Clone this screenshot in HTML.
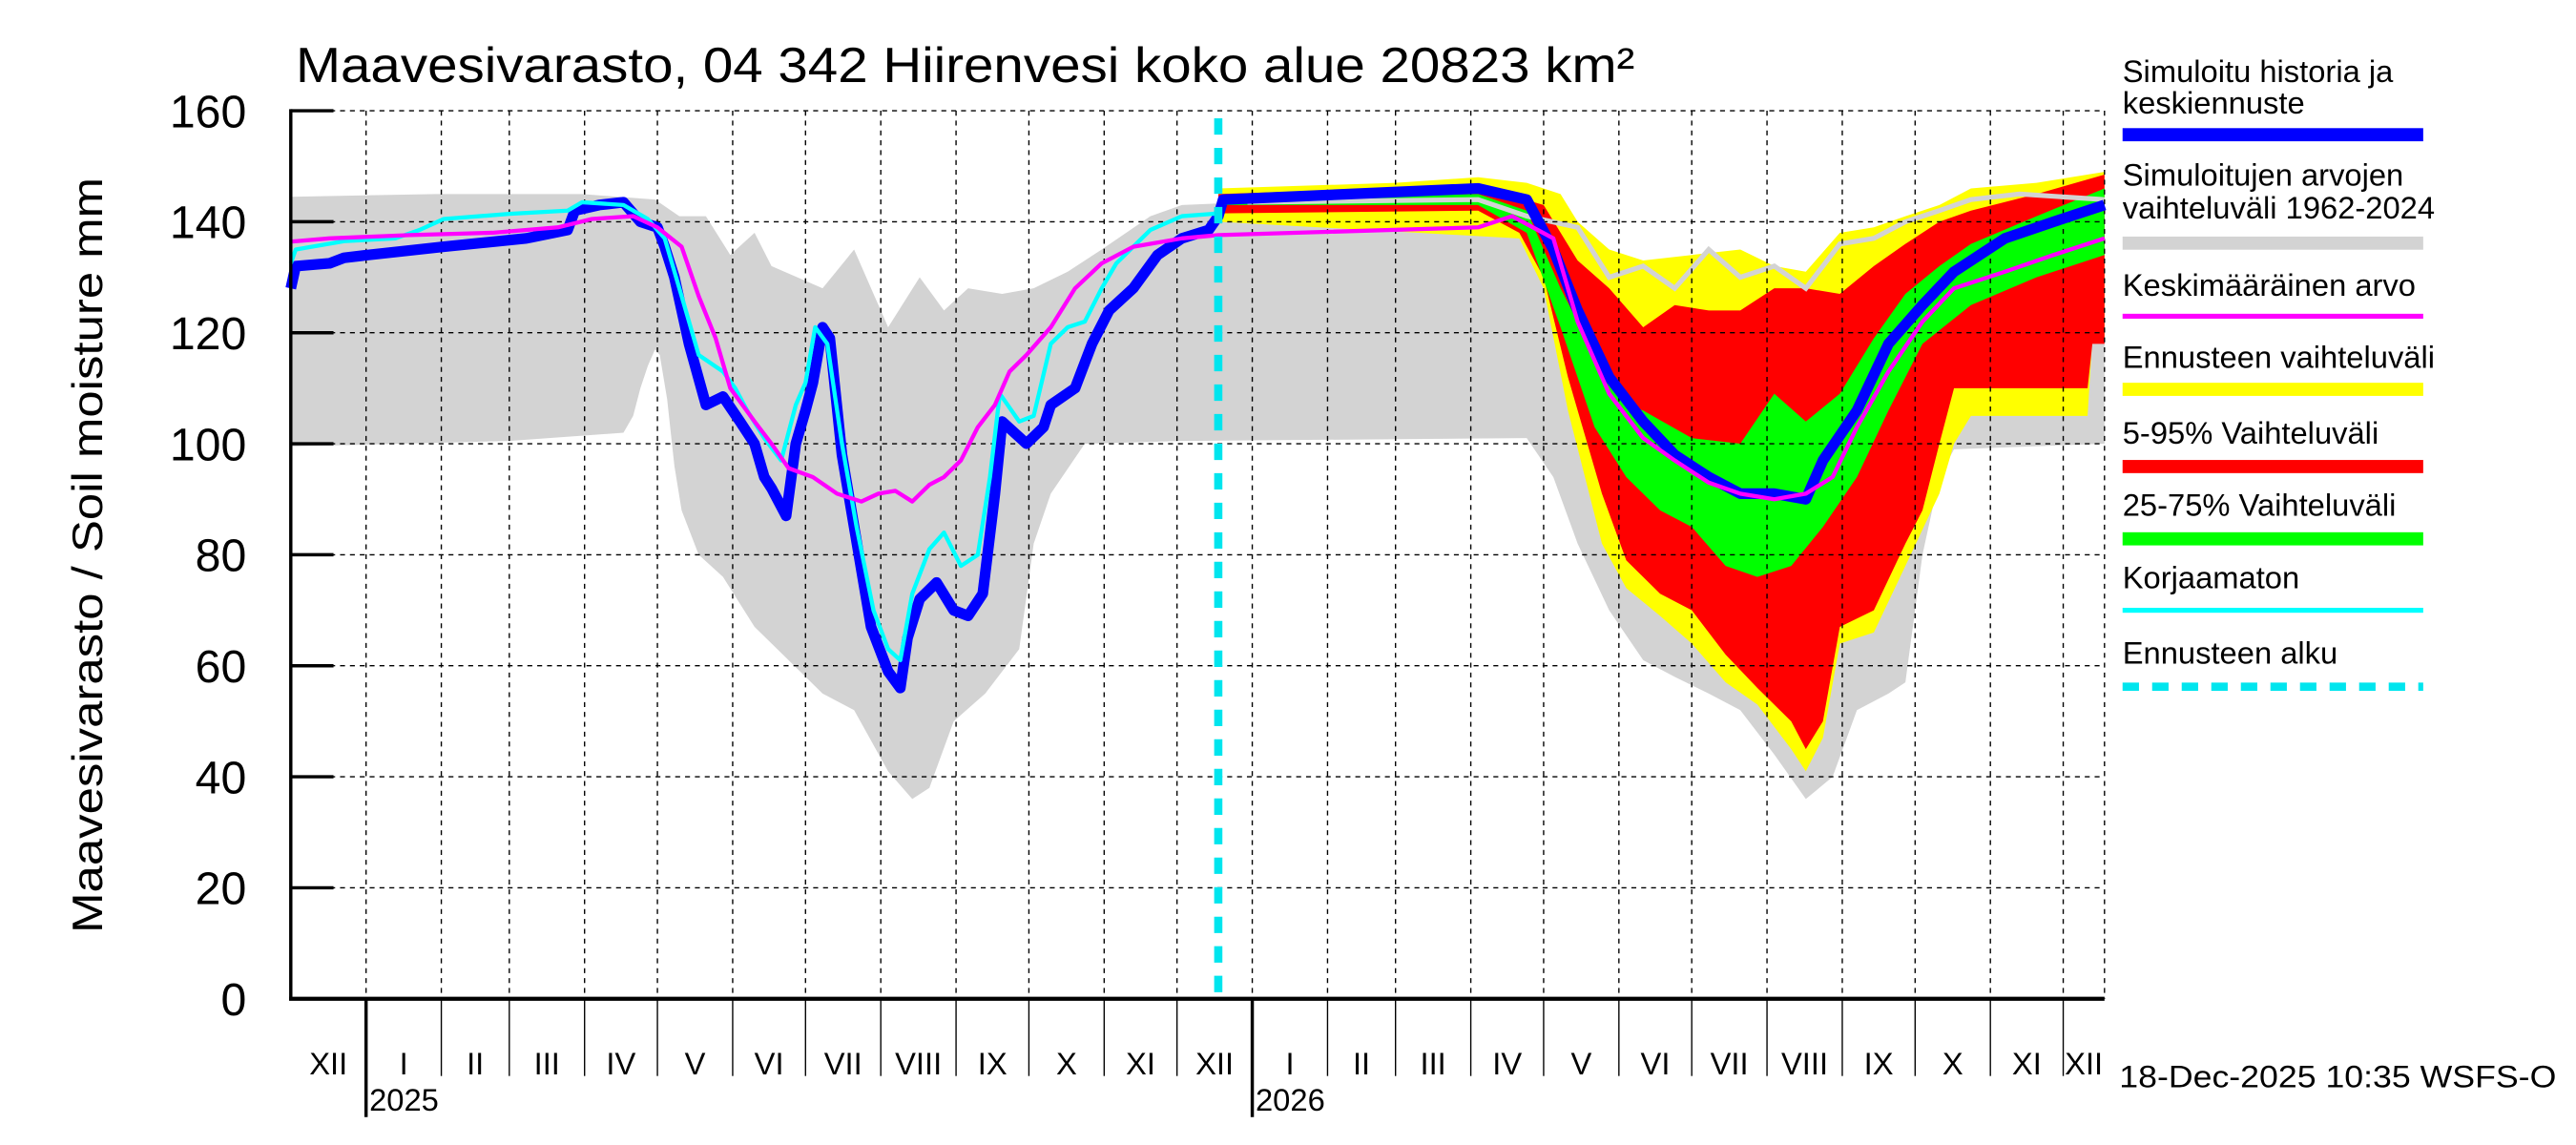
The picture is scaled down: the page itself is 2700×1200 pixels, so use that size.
<!DOCTYPE html>
<html><head><meta charset="utf-8"><style>
html,body{margin:0;padding:0;background:#fff}
svg{display:block}
text{font-family:"Liberation Sans",Arial,sans-serif;fill:#000}
</style></head><body>
<svg id="chart" width="2700" height="1200" viewBox="0 0 1568 697" preserveAspectRatio="none" xmlns="http://www.w3.org/2000/svg">
<g id="bands"></g>
<g id="grid"></g>
<g id="lines"></g>
<g id="axes"></g>
<text x="180" y="50" font-size="30" textLength="815" lengthAdjust="spacingAndGlyphs">Maavesivarasto, 04 342 Hiirenvesi koko alue 20823 km²</text>
<text transform="translate(62,338) rotate(-90)" text-anchor="middle" font-size="26" textLength="460" lengthAdjust="spacingAndGlyphs">Maavesivarasto / Soil moisture   mm</text>
<text x="1290" y="662" font-size="19" textLength="266" lengthAdjust="spacingAndGlyphs">18-Dec-2025 10:35 WSFS-O</text>
<g font-size="19">
<text x="1292" y="50">Simuloitu historia ja</text>
<text x="1292" y="69">keskiennuste</text>
<rect x="1292" y="78" width="183" height="8" fill="#0000ff"/>
<text x="1292" y="113">Simuloitujen arvojen</text>
<text x="1292" y="133">vaihteluväli 1962-2024</text>
<rect x="1292" y="144" width="183" height="8" fill="#d3d3d3"/>
<text x="1292" y="180">Keskimääräinen arvo</text>
<rect x="1292" y="191" width="183" height="3" fill="#ff00ff"/>
<text x="1292" y="224">Ennusteen vaihteluväli</text>
<rect x="1292" y="233" width="183" height="8" fill="#ffff00"/>
<text x="1292" y="270">5-95% Vaihteluväli</text>
<rect x="1292" y="280" width="183" height="8" fill="#ff0000"/>
<text x="1292" y="314">25-75% Vaihteluväli</text>
<rect x="1292" y="324" width="183" height="8" fill="#00ff00"/>
<text x="1292" y="358">Korjaamaton</text>
<rect x="1292" y="370" width="183" height="3" fill="#00ffff"/>
<text x="1292" y="404">Ennusteen alku</text>
<line x1="1292" y1="418" x2="1475" y2="418" stroke="#00e5ee" stroke-width="5" stroke-dasharray="10,8"/>
</g>
</svg>
<script>
const monthStarts=[0,31,62,90,121,151,182,212,243,274,304,335,365,396,427,455,486,516,547,577,608,639,669,700,730];
const monthLabels=["XII","I","II","III","IV","V","VI","VII","VIII","IX","X","XI","XII","I","II","III","IV","V","VI","VII","VIII","IX","X","XI","XII"];
const yearStarts=[31,396];
const yearLabels=["2025","2026"];
const yTicks=[0,20,40,60,80,100,120,140,160];
const endDay=747;
const forecastDay=382;

const greyUpDays=[0,60,120,150,160,171,181,191,198,219,232,246,259,269,279,293,306,320,334,354,367,394,489,509,530,543,557,570,584,597,611,624,638,652,665,679,692,712,747];
const greyUpVals=[144.5,145,145,144,141,141,134,138,132,128,135,121,130,124,128,127,128,131,135,141,143,143.5,144,141,139,130,132,128,135,130,132,128,136,137,140,142,144,145,144];
const greyLoDays=[0,90,137,141,144,147,150,152,155,158,161,168,178,191,205,219,232,246,256,263,273,286,300,306,313,327,367,509,520,530,543,557,570,584,597,611,624,635,645,658,665,672,679,685,747];
const greyLoVals=[99.5,100.5,102,105,110,114,117,116,108,96,88,80,76,67,61,55,52,41,36,38,50,55,63,82,91,100,100.5,101,94,82,70,61,58,55,52,44,36,40,52,55,57,80,94,99,100];

const yelUpDays=[382,455,489,509,523,530,543,557,577,597,611,624,638,652,665,679,692,719,747];
const yelUpVals=[146,147,148,147,145,140,135,133,134,135,132,131,138,139,141,143,146,147,149];
const yelLoDays=[382,506,516,526,540,550,564,577,591,604,618,624,631,638,652,665,679,685,692,740,742,747];
const yelLoVals=[140,137,128,106,82,74,69,64,57,53,45,41,47,64,66,78,91,100,105,105,119,119];
const redUpDays=[382,489,516,530,543,557,570,584,597,611,624,638,652,665,679,692,719,747];
const redUpVals=[145,146.5,143,133,128,121,125,124,124,128,128,127,132,136,140,142,145,148.5];
const redLoDays=[382,489,506,516,526,540,550,564,577,591,604,618,624,631,638,652,665,672,679,685,740,742,747];
const redLoVals=[141.5,142,138,130,112,91,79,73,70,62,56,50,45,50,67,70,82,88,100,110,110,118,118];
const grnUpDays=[382,489,509,523,537,550,557,577,597,611,624,638,652,665,679,692,719,747];
const grnUpVals=[144,145,142,128,116,107,106,101,100,109,104,109,119,127,132,136,141,146];
const grnLoDays=[382,489,509,523,537,550,564,577,591,604,618,631,645,658,672,692,719,747];
const grnLoVals=[143,143,138,121,103,94,88,85,78,76,78,85,94,106,118,125,130,134];

const blueDays=[0,2,16,22,32,63,97,114,117,127,137,144,151,154,158,164,171,178,185,191,195,198,204,208,212,215,219,222,227,232,239,246,251,254,259,266,273,279,285,290,293,303,310,313,323,330,337,347,357,367,378,382,384,489,509,520,530,543,557,570,584,597,611,624,631,645,658,672,685,706,726,747];
const blueVals=[128,132,132.5,133.5,134,135.5,137,138.5,142,143,143.5,140,139,135.5,130,118,107,108.5,104,100,94,92,87,100,106,111,121,119,98,85,67,59,56,65,72,75,70,69,73,91,104,100,103,107,110,118,124,128,134,137,138.5,141,144,146,144,135,124,112,104,98,94,91,91,90,97,106,118,125,131,137,140,143];
const cyanDays=[0,2,22,43,53,63,90,114,120,137,147,154,161,168,178,183,188,195,202,208,212,216,221,227,233,240,246,251,256,263,269,276,283,288,292,300,306,313,320,327,334,340,354,367,382];
const cyanVals=[132.5,135,136.5,137,138.5,140.5,141.4,142,143.5,143,140.5,137,126.6,116,113,110,106,101,97,107,111,121,118,100,85,70,63,61,73,81,84,78,80,94,109,104,105,118,121,122,128,132.5,138.5,141,141.5];
const meanDays=[0,16,49,83,110,124,141,151,161,168,175,181,191,198,205,215,225,235,242,249,256,263,269,276,283,290,296,303,313,323,334,347,367,382,489,503,520,530,543,557,570,584,597,611,624,635,645,658,672,685,706,726,747];
const meanVals=[136.4,137,137.6,138,139,140.5,141,139,135.5,126.6,119,110,104,100,95.6,94,91,89.6,91,91.5,89.6,92.6,94,97,103,107,113,116,121,128,132.5,135.5,137,137.6,139,141,137,122,109,101,97,93,91,90,91,94,103,113,122,128,131,134,137];

const L=177,R=1281,T=67.4,B=608;
const NS="http://www.w3.org/2000/svg";
function xs(d){return L+(d/endDay)*(R-L);}
function ys(v){return B-(v/160)*(B-T);}
function mk(tag,attrs,parent){const e=document.createElementNS(NS,tag);for(const k in attrs)e.setAttribute(k,attrs[k]);parent.appendChild(e);return e;}
function pts(days,vals){return days.map((d,i)=>xs(d).toFixed(1)+","+ys(vals[i]).toFixed(1));}
const bands=document.getElementById('bands'),grid=document.getElementById('grid'),lines=document.getElementById('lines'),axes=document.getElementById('axes');

function band(ud,uv,ld,lv,color,name){
  const p=pts(ud,uv).concat(pts(ld,lv).reverse()).join(" ");
  const e=mk('polygon',{points:p,fill:color,stroke:'none'},bands);
  
  
}
band(greyUpDays,greyUpVals,greyLoDays,greyLoVals,'#d3d3d3','historical-range-band');
band(yelUpDays,yelUpVals,yelLoDays,yelLoVals,'#ffff00','forecast-range-band');
band(redUpDays,redUpVals,redLoDays,redLoVals,'#ff0000','band-5-95');
band(grnUpDays,grnUpVals,grnLoDays,grnLoVals,'#00ff00','band-25-75');

// grey upper edge visible over forecast
{const fd=[],fv=[];greyUpDays.forEach((d,i)=>{if(d>=forecastDay){fd.push(d);fv.push(greyUpVals[i]);}});
const e=mk('polyline',{points:pts(fd,fv).join(" "),fill:'none',stroke:'#d3d3d3','stroke-width':3},bands);

}

// grid
yTicks.forEach(v=>{if(v===0)return;const e=mk('line',{x1:L,x2:R,y1:ys(v),y2:ys(v),stroke:'#000','stroke-width':0.8,'stroke-dasharray':'3,3'},grid);

});
monthStarts.concat([endDay]).forEach(d=>{if(d===0)return;const e=mk('line',{x1:xs(d),x2:xs(d),y1:T,y2:B,stroke:'#000','stroke-width':0.8,'stroke-dasharray':'3,3'},grid);

});

function line(days,vals,color,w,name){const e=mk('polyline',{points:pts(days,vals).join(" "),fill:'none',stroke:color,'stroke-width':w,'stroke-linejoin':'round'},lines);

}
line(blueDays,blueVals,'#0000ff',6.5,'median-line');
line(cyanDays,cyanVals,'#00ffff',2.5,'uncorrected-line');
line(meanDays,meanVals,'#ff00ff',2.5,'mean-line');
{const e=mk('line',{x1:xs(forecastDay),x2:xs(forecastDay),y1:72,y2:B,stroke:'#00e5ee','stroke-width':5,'stroke-dasharray':'10,8'},lines);

}

// axes
{let e=mk('line',{x1:L,x2:L,y1:T-1,y2:B+1,stroke:'#000','stroke-width':2},axes);


e=mk('line',{x1:L-1,x2:R,y1:B,y2:B,stroke:'#000','stroke-width':2.5},axes);

}
yTicks.forEach(v=>{const t=mk('line',{x1:L,x2:L+26,y1:ys(v),y2:ys(v),stroke:'#000','stroke-width':2},axes);


const l=mk('text',{x:150,y:ys(v)+10,'text-anchor':'end','font-size':28},axes);l.textContent=String(v);

});
monthStarts.forEach((d,i)=>{if(d>0){const t=mk('line',{x1:xs(d),x2:xs(d),y1:B,y2:B+47,stroke:'#000','stroke-width':0.8},axes);

}
const next=i+1<monthStarts.length?monthStarts[i+1]:endDay;
const l=mk('text',{x:(xs(d)+xs(next))/2,y:654,'text-anchor':'middle','font-size':19},axes);l.textContent=monthLabels[i];

});
yearStarts.forEach((d,i)=>{const t=mk('line',{x1:xs(d),x2:xs(d),y1:B,y2:B+72,stroke:'#000','stroke-width':2},axes);


const l=mk('text',{x:xs(d)+2,y:676,'font-size':19},axes);l.textContent=yearLabels[i];

});
</script>
</body></html>
